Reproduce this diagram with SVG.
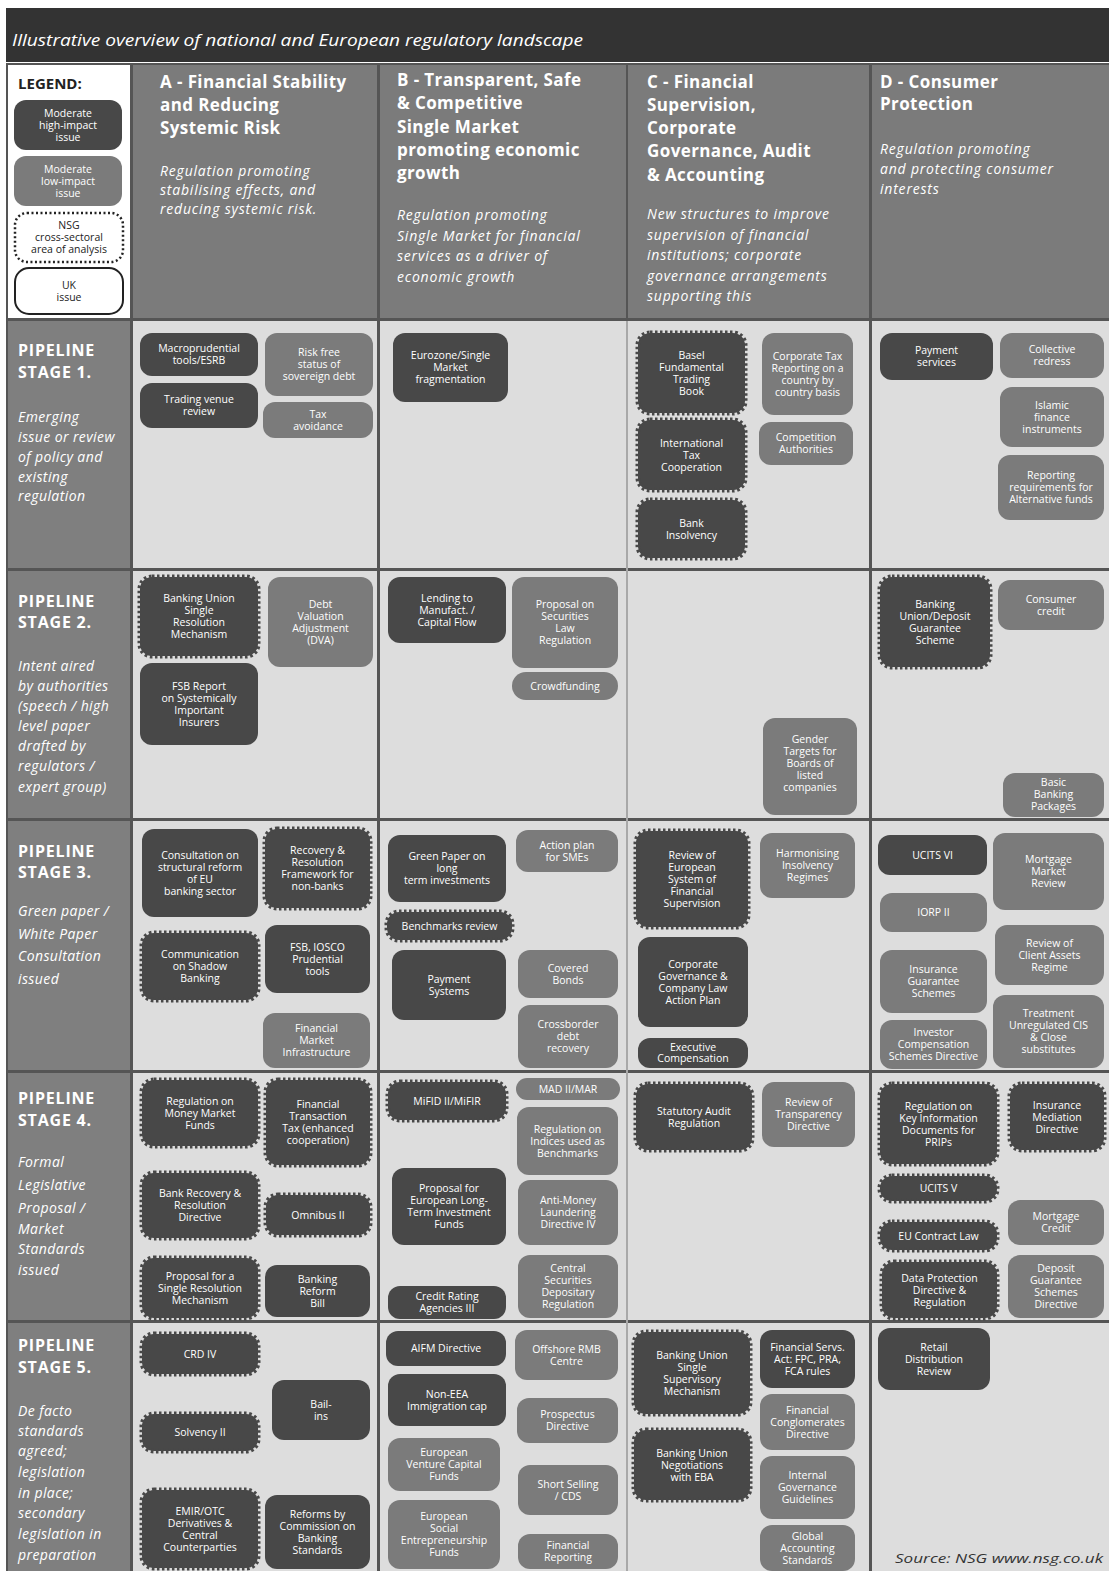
<svg xmlns="http://www.w3.org/2000/svg" width="1109" height="1571" viewBox="0 0 1109 1571">
<style>
.d{fill:#484848}
.g{fill:#7b7b7b}
.z{fill:#484848;stroke:#484848;stroke-width:5;stroke-dasharray:2.5 2.5}
.t{font-family:'Open Sans','DejaVu Sans',sans-serif;font-size:10.5px;fill:#fff;text-anchor:middle}
.hd{font-family:'Open Sans','DejaVu Sans',sans-serif;font-size:17px;font-weight:bold;fill:#fff;letter-spacing:0.4px}
.it{font-family:'Open Sans','DejaVu Sans',sans-serif;font-size:14px;font-style:italic;fill:#fff;letter-spacing:0.8px}
.lb{font-family:'Open Sans','DejaVu Sans',sans-serif;font-size:16px;font-weight:bold;fill:#fff;letter-spacing:0.8px}
.li{font-family:'Open Sans','DejaVu Sans',sans-serif;font-size:14px;font-style:italic;fill:#fff;letter-spacing:0.4px}
.cell{fill:#dddddd}
.lab{fill:#7f7f7f}
.hdr{fill:#7b7b7b}
</style>
<rect width="1109" height="1571" fill="#ffffff"/>
<g id="frame">
<rect x="6" y="8" width="1103" height="54" fill="#333333"/>
<text x="12" y="46" font-family="'Open Sans','DejaVu Sans',sans-serif" font-size="17" font-style="italic" fill="#fff" textLength="571" lengthAdjust="spacingAndGlyphs">Illustrative overview of national and European regulatory landscape</text>
<rect x="6" y="63" width="1103" height="1508" fill="#555555"/>
<rect x="8" y="65" width="122" height="253" fill="#ffffff"/>
<rect class="hdr" x="133" y="65" width="244" height="253"/>
<rect class="hdr" x="380" y="65" width="246" height="253"/>
<rect class="hdr" x="628" y="65" width="241" height="253"/>
<rect class="hdr" x="872" y="65" width="237" height="253"/>
<rect class="lab" x="8" y="321" width="122" height="247"/>
<rect class="lab" x="8" y="571" width="122" height="247"/>
<rect class="lab" x="8" y="821" width="122" height="249"/>
<rect class="lab" x="8" y="1073" width="122" height="247"/>
<rect class="lab" x="8" y="1323" width="122" height="248"/>
<rect x="626" y="321" width="2" height="1250" fill="#a8a8a8"/>
<rect class="cell" x="133" y="321" width="244" height="247"/><rect class="cell" x="380" y="321" width="246" height="247"/><rect class="cell" x="628" y="321" width="241" height="247"/><rect class="cell" x="872" y="321" width="237" height="247"/>
<rect class="cell" x="133" y="571" width="244" height="247"/><rect class="cell" x="380" y="571" width="246" height="247"/><rect class="cell" x="628" y="571" width="241" height="247"/><rect class="cell" x="872" y="571" width="237" height="247"/>
<rect class="cell" x="133" y="821" width="244" height="249"/><rect class="cell" x="380" y="821" width="246" height="249"/><rect class="cell" x="628" y="821" width="241" height="249"/><rect class="cell" x="872" y="821" width="237" height="249"/>
<rect class="cell" x="133" y="1073" width="244" height="247"/><rect class="cell" x="380" y="1073" width="246" height="247"/><rect class="cell" x="628" y="1073" width="241" height="247"/><rect class="cell" x="872" y="1073" width="237" height="247"/>
<rect class="cell" x="133" y="1323" width="244" height="248"/><rect class="cell" x="380" y="1323" width="246" height="248"/><rect class="cell" x="628" y="1323" width="241" height="248"/><rect class="cell" x="872" y="1323" width="237" height="248"/>
</g>
<g id="legend">
<text x="18" y="89" font-family="'Open Sans','DejaVu Sans',sans-serif" font-size="15" font-weight="bold" fill="#222">LEGEND:</text>
<rect class="d" x="14" y="100" width="108" height="50" rx="12"/>
<text class="t"><tspan x="68" y="116.5">Moderate</tspan><tspan x="68" y="128.5">high-impact</tspan><tspan x="68" y="140.5">issue</tspan></text>
<rect class="g" x="14" y="156" width="108" height="50" rx="12"/>
<text class="t"><tspan x="68" y="172.5">Moderate</tspan><tspan x="68" y="184.5">low-impact</tspan><tspan x="68" y="196.5">issue</tspan></text>
<rect x="15" y="213" width="108" height="49" rx="12" fill="#fff" stroke="#222" stroke-width="2.5" stroke-dasharray="2 2.5"/>
<text class="t" style="fill:#222"><tspan x="69" y="228.5">NSG</tspan><tspan x="69" y="240.5">cross-sectoral</tspan><tspan x="69" y="252.5">area of analysis</tspan></text>
<rect x="15" y="268" width="108" height="46" rx="14" fill="#fff" stroke="#222" stroke-width="2"/>
<text class="t" style="fill:#222"><tspan x="69" y="288.5">UK</tspan><tspan x="69" y="300.5">issue</tspan></text>
</g>
<g id="col-A">
<text class="hd"><tspan x="160" y="88">A - Financial Stability</tspan><tspan x="160" y="111">and Reducing</tspan><tspan x="160" y="134">Systemic Risk</tspan></text>
<text class="it"><tspan x="160" y="176">Regulation promoting</tspan><tspan x="160" y="195">stabilising effects, and</tspan><tspan x="160" y="214">reducing systemic risk.</tspan></text>
</g>
<g id="col-B">
<text class="hd"><tspan x="397" y="86">B - Transparent, Safe</tspan><tspan x="397" y="109">&amp; Competitive</tspan><tspan x="397" y="133">Single Market</tspan><tspan x="397" y="156">promoting economic</tspan><tspan x="397" y="179">growth</tspan></text>
<text class="it"><tspan x="397" y="220">Regulation promoting</tspan><tspan x="397" y="241">Single Market for financial</tspan><tspan x="397" y="261">services as a driver of</tspan><tspan x="397" y="282">economic growth</tspan></text>
</g>
<g id="col-C">
<text class="hd"><tspan x="647" y="88">C - Financial</tspan><tspan x="647" y="111">Supervision,</tspan><tspan x="647" y="134">Corporate</tspan><tspan x="647" y="157">Governance, Audit</tspan><tspan x="647" y="181">&amp; Accounting</tspan></text>
<text class="it"><tspan x="647" y="219">New structures to improve</tspan><tspan x="647" y="240">supervision of financial</tspan><tspan x="647" y="260">institutions; corporate</tspan><tspan x="647" y="281">governance arrangements</tspan><tspan x="647" y="301">supporting this</tspan></text>
</g>
<g id="col-D">
<text class="hd"><tspan x="880" y="88">D - Consumer</tspan><tspan x="880" y="110">Protection</tspan></text>
<text class="it"><tspan x="880" y="154">Regulation promoting</tspan><tspan x="880" y="174">and protecting consumer</tspan><tspan x="880" y="194">interests</tspan></text>
</g>
<g id="stage-1">
<text class="lb"><tspan x="18" y="356">PIPELINE</tspan><tspan x="18" y="378">STAGE 1.</tspan></text>
<text class="li"><tspan x="18" y="422">Emerging</tspan><tspan x="18" y="442">issue or review</tspan><tspan x="18" y="462">of policy and</tspan><tspan x="18" y="482">existing</tspan><tspan x="18" y="501">regulation</tspan></text>
</g>
<g id="stage-2">
<text class="lb"><tspan x="18" y="607">PIPELINE</tspan><tspan x="18" y="628">STAGE 2.</tspan></text>
<text class="li"><tspan x="18" y="671">Intent aired</tspan><tspan x="18" y="691">by authorities</tspan><tspan x="18" y="711">(speech / high</tspan><tspan x="18" y="731">level paper</tspan><tspan x="18" y="751">drafted by</tspan><tspan x="18" y="771">regulators /</tspan><tspan x="18" y="792">expert group)</tspan></text>
</g>
<g id="stage-3">
<text class="lb"><tspan x="18" y="857">PIPELINE</tspan><tspan x="18" y="878">STAGE 3.</tspan></text>
<text class="li"><tspan x="18" y="916">Green paper /</tspan><tspan x="18" y="939">White Paper</tspan><tspan x="18" y="961">Consultation</tspan><tspan x="18" y="984">issued</tspan></text>
</g>
<g id="stage-4">
<text class="lb"><tspan x="18" y="1104">PIPELINE</tspan><tspan x="18" y="1126">STAGE 4.</tspan></text>
<text class="li"><tspan x="18" y="1167">Formal</tspan><tspan x="18" y="1190">Legislative</tspan><tspan x="18" y="1213">Proposal /</tspan><tspan x="18" y="1234">Market</tspan><tspan x="18" y="1254">Standards</tspan><tspan x="18" y="1275">issued</tspan></text>
</g>
<g id="stage-5">
<text class="lb"><tspan x="18" y="1351">PIPELINE</tspan><tspan x="18" y="1373">STAGE 5.</tspan></text>
<text class="li"><tspan x="18" y="1416">De facto</tspan><tspan x="18" y="1436">standards</tspan><tspan x="18" y="1456">agreed;</tspan><tspan x="18" y="1477">legislation</tspan><tspan x="18" y="1498">in place;</tspan><tspan x="18" y="1518">secondary</tspan><tspan x="18" y="1539">legislation in</tspan><tspan x="18" y="1560">preparation</tspan></text>
</g>

<g id="s1-a1"><rect class="d" x="140" y="333" width="118" height="43" rx="12"/><text class="t"><tspan x="199" y="352">Macroprudential</tspan><tspan x="199" y="364">tools/ESRB</tspan></text></g>
<g id="s1-a2"><rect class="d" x="140" y="383" width="118" height="45" rx="12"/><text class="t"><tspan x="199" y="403">Trading venue</tspan><tspan x="199" y="415">review</tspan></text></g>
<g id="s1-a3"><rect class="g" x="265" y="333" width="108" height="63" rx="12"/><text class="t"><tspan x="319" y="356">Risk free</tspan><tspan x="319" y="368">status of</tspan><tspan x="319" y="380">sovereign debt</tspan></text></g>
<g id="s1-a4"><rect class="g" x="263" y="402" width="110" height="36" rx="12"/><text class="t"><tspan x="318" y="417.5">Tax</tspan><tspan x="318" y="429.5">avoidance</tspan></text></g>
<g id="s1-b1"><rect class="d" x="393" y="333" width="115" height="69" rx="12"/><text class="t"><tspan x="450.5" y="359">Eurozone/Single</tspan><tspan x="450.5" y="371">Market</tspan><tspan x="450.5" y="383">fragmentation</tspan></text></g>
<g id="s1-c1"><rect class="z" x="638" y="333" width="107" height="80" rx="12"/><text class="t"><tspan x="691.5" y="358.5">Basel</tspan><tspan x="691.5" y="370.5">Fundamental</tspan><tspan x="691.5" y="382.5">Trading</tspan><tspan x="691.5" y="394.5">Book</tspan></text></g>
<g id="s1-c2"><rect class="z" x="638" y="420" width="107" height="70" rx="12"/><text class="t"><tspan x="691.5" y="446.5">International</tspan><tspan x="691.5" y="458.5">Tax</tspan><tspan x="691.5" y="470.5">Cooperation</tspan></text></g>
<g id="s1-c3"><rect class="z" x="638" y="500" width="107" height="58" rx="12"/><text class="t"><tspan x="691.5" y="526.5">Bank</tspan><tspan x="691.5" y="538.5">Insolvency</tspan></text></g>
<g id="s1-c4"><rect class="g" x="762" y="333" width="91" height="82" rx="12"/><text class="t"><tspan x="807.5" y="359.5">Corporate Tax</tspan><tspan x="807.5" y="371.5">Reporting on a</tspan><tspan x="807.5" y="383.5">country by</tspan><tspan x="807.5" y="395.5">country basis</tspan></text></g>
<g id="s1-c5"><rect class="g" x="759" y="422" width="94" height="43" rx="12"/><text class="t"><tspan x="806" y="441">Competition</tspan><tspan x="806" y="453">Authorities</tspan></text></g>
<g id="s1-d1"><rect class="d" x="880" y="333" width="113" height="47" rx="12"/><text class="t"><tspan x="936.5" y="354">Payment</tspan><tspan x="936.5" y="366">services</tspan></text></g>
<g id="s1-d2"><rect class="g" x="1000" y="333" width="104" height="45" rx="12"/><text class="t"><tspan x="1052" y="353">Collective</tspan><tspan x="1052" y="365">redress</tspan></text></g>
<g id="s1-d3"><rect class="g" x="1000" y="387" width="104" height="60" rx="12"/><text class="t"><tspan x="1052" y="408.5">Islamic</tspan><tspan x="1052" y="420.5">finance</tspan><tspan x="1052" y="432.5">instruments</tspan></text></g>
<g id="s1-d4"><rect class="g" x="998" y="455" width="106" height="65" rx="12"/><text class="t"><tspan x="1051" y="479">Reporting</tspan><tspan x="1051" y="491">requirements for</tspan><tspan x="1051" y="503">Alternative funds</tspan></text></g>

<g id="s2-a1"><rect class="z" x="140" y="577" width="118" height="79" rx="12"/><text class="t"><tspan x="199" y="602">Banking Union</tspan><tspan x="199" y="614">Single</tspan><tspan x="199" y="626">Resolution</tspan><tspan x="199" y="638">Mechanism</tspan></text></g>
<g id="s2-a2"><rect class="g" x="268" y="577" width="105" height="90" rx="12"/><text class="t"><tspan x="320.5" y="607.5">Debt</tspan><tspan x="320.5" y="619.5">Valuation</tspan><tspan x="320.5" y="631.5">Adjustment</tspan><tspan x="320.5" y="643.5">(DVA)</tspan></text></g>
<g id="s2-a3"><rect class="d" x="140" y="663" width="118" height="82" rx="12"/><text class="t"><tspan x="199" y="689.5">FSB Report</tspan><tspan x="199" y="701.5">on Systemically</tspan><tspan x="199" y="713.5">Important</tspan><tspan x="199" y="725.5">Insurers</tspan></text></g>
<g id="s2-b1"><rect class="d" x="388" y="577" width="118" height="66" rx="12"/><text class="t"><tspan x="447" y="601.5">Lending to</tspan><tspan x="447" y="613.5">Manufact. /</tspan><tspan x="447" y="625.5">Capital Flow</tspan></text></g>
<g id="s2-b2"><rect class="g" x="512" y="577" width="106" height="91" rx="12"/><text class="t"><tspan x="565" y="608">Proposal on</tspan><tspan x="565" y="620">Securities</tspan><tspan x="565" y="632">Law</tspan><tspan x="565" y="644">Regulation</tspan></text></g>
<g id="s2-b3"><rect class="g" x="512" y="672" width="106" height="28" rx="14"/><text class="t"><tspan x="565" y="689.5">Crowdfunding</tspan></text></g>
<g id="s2-c1"><rect class="g" x="763" y="718" width="94" height="97" rx="12"/><text class="t"><tspan x="810" y="743">Gender</tspan><tspan x="810" y="755">Targets for</tspan><tspan x="810" y="767">Boards of</tspan><tspan x="810" y="779">listed</tspan><tspan x="810" y="791">companies</tspan></text></g>
<g id="s2-d1"><rect class="z" x="880" y="577" width="110" height="90" rx="12"/><text class="t"><tspan x="935" y="607.5">Banking</tspan><tspan x="935" y="619.5">Union/Deposit</tspan><tspan x="935" y="631.5">Guarantee</tspan><tspan x="935" y="643.5">Scheme</tspan></text></g>
<g id="s2-d2"><rect class="g" x="998" y="580" width="106" height="50" rx="12"/><text class="t"><tspan x="1051" y="602.5">Consumer</tspan><tspan x="1051" y="614.5">credit</tspan></text></g>
<g id="s2-d3"><rect class="g" x="1003" y="773" width="101" height="44" rx="12"/><text class="t"><tspan x="1053.5" y="786">Basic</tspan><tspan x="1053.5" y="798">Banking</tspan><tspan x="1053.5" y="810">Packages</tspan></text></g>

<g id="s3-a1"><rect class="d" x="142" y="829" width="116" height="88" rx="12"/><text class="t"><tspan x="200" y="858.5">Consultation on</tspan><tspan x="200" y="870.5">structural reform</tspan><tspan x="200" y="882.5">of EU</tspan><tspan x="200" y="894.5">banking sector</tspan></text></g>
<g id="s3-a2"><rect class="z" x="265" y="829" width="105" height="79" rx="12"/><text class="t"><tspan x="317.5" y="854">Recovery &amp;</tspan><tspan x="317.5" y="866">Resolution</tspan><tspan x="317.5" y="878">Framework for</tspan><tspan x="317.5" y="890">non-banks</tspan></text></g>
<g id="s3-a3"><rect class="z" x="142" y="933" width="116" height="67" rx="12"/><text class="t"><tspan x="200" y="958">Communication</tspan><tspan x="200" y="970">on Shadow</tspan><tspan x="200" y="982">Banking</tspan></text></g>
<g id="s3-a4"><rect class="d" x="265" y="925" width="105" height="68" rx="12"/><text class="t"><tspan x="317.5" y="950.5">FSB, IOSCO</tspan><tspan x="317.5" y="962.5">Prudential</tspan><tspan x="317.5" y="974.5">tools</tspan></text></g>
<g id="s3-a5"><rect class="g" x="263" y="1013" width="107" height="55" rx="12"/><text class="t"><tspan x="316.5" y="1032">Financial</tspan><tspan x="316.5" y="1044">Market</tspan><tspan x="316.5" y="1056">Infrastructure</tspan></text></g>
<g id="s3-b1"><rect class="d" x="388" y="835" width="118" height="67" rx="12"/><text class="t"><tspan x="447" y="860">Green Paper on</tspan><tspan x="447" y="872">long</tspan><tspan x="447" y="884">term investments</tspan></text></g>
<g id="s3-b2"><rect class="z" x="387" y="912" width="125" height="28" rx="12"/><text class="t"><tspan x="449.5" y="929.5">Benchmarks review</tspan></text></g>
<g id="s3-b3"><rect class="d" x="392" y="950" width="114" height="70" rx="12"/><text class="t"><tspan x="449" y="982.5">Payment</tspan><tspan x="449" y="994.5">Systems</tspan></text></g>
<g id="s3-b4"><rect class="g" x="516" y="830" width="102" height="42" rx="12"/><text class="t"><tspan x="567" y="848.5">Action plan</tspan><tspan x="567" y="860.5">for SMEs</tspan></text></g>
<g id="s3-b5"><rect class="g" x="518" y="950" width="100" height="48" rx="12"/><text class="t"><tspan x="568" y="971.5">Covered</tspan><tspan x="568" y="983.5">Bonds</tspan></text></g>
<g id="s3-b6"><rect class="g" x="518" y="1005" width="100" height="63" rx="12"/><text class="t"><tspan x="568" y="1028">Crossborder</tspan><tspan x="568" y="1040">debt</tspan><tspan x="568" y="1052">recovery</tspan></text></g>
<g id="s3-c1"><rect class="z" x="636" y="831" width="112" height="96" rx="12"/><text class="t"><tspan x="692" y="858.5">Review of</tspan><tspan x="692" y="870.5">European</tspan><tspan x="692" y="882.5">System of</tspan><tspan x="692" y="894.5">Financial</tspan><tspan x="692" y="906.5">Supervision</tspan></text></g>
<g id="s3-c2"><rect class="d" x="638" y="937" width="110" height="90" rx="12"/><text class="t"><tspan x="693" y="967.5">Corporate</tspan><tspan x="693" y="979.5">Governance &amp;</tspan><tspan x="693" y="991.5">Company Law</tspan><tspan x="693" y="1003.5">Action Plan</tspan></text></g>
<g id="s3-c3"><rect class="d" x="638" y="1038" width="110" height="30" rx="12"/><text class="t"><tspan x="693" y="1050.5">Executive</tspan><tspan x="693" y="1062">Compensation</tspan></text></g>
<g id="s3-c4"><rect class="g" x="760" y="833" width="95" height="65" rx="12"/><text class="t"><tspan x="807.5" y="857">Harmonising</tspan><tspan x="807.5" y="869">Insolvency</tspan><tspan x="807.5" y="881">Regimes</tspan></text></g>
<g id="s3-d1"><rect class="d" x="878" y="835" width="109" height="40" rx="12"/><text class="t"><tspan x="932.5" y="858.5">UCITS VI</tspan></text></g>
<g id="s3-d2"><rect class="g" x="880" y="893" width="107" height="39" rx="12"/><text class="t"><tspan x="933.5" y="916">IORP II</tspan></text></g>
<g id="s3-d3"><rect class="g" x="880" y="950" width="107" height="63" rx="12"/><text class="t"><tspan x="933.5" y="973">Insurance</tspan><tspan x="933.5" y="985">Guarantee</tspan><tspan x="933.5" y="997">Schemes</tspan></text></g>
<g id="s3-d4"><rect class="g" x="880" y="1020" width="107" height="49" rx="12"/><text class="t"><tspan x="933.5" y="1036">Investor</tspan><tspan x="933.5" y="1048">Compensation</tspan><tspan x="933.5" y="1060">Schemes Directive</tspan></text></g>
<g id="s3-d5"><rect class="g" x="993" y="833" width="111" height="77" rx="12"/><text class="t"><tspan x="1048.5" y="863">Mortgage</tspan><tspan x="1048.5" y="875">Market</tspan><tspan x="1048.5" y="887">Review</tspan></text></g>
<g id="s3-d6"><rect class="g" x="995" y="925" width="109" height="60" rx="12"/><text class="t"><tspan x="1049.5" y="946.5">Review of</tspan><tspan x="1049.5" y="958.5">Client Assets</tspan><tspan x="1049.5" y="970.5">Regime</tspan></text></g>
<g id="s3-d7"><rect class="g" x="993" y="995" width="111" height="73" rx="12"/><text class="t"><tspan x="1048.5" y="1017">Treatment</tspan><tspan x="1048.5" y="1029">Unregulated CIS</tspan><tspan x="1048.5" y="1041">&amp; Close</tspan><tspan x="1048.5" y="1053">substitutes</tspan></text></g>

<g id="s4-a1"><rect class="z" x="142" y="1080" width="116" height="66" rx="12"/><text class="t"><tspan x="200" y="1104.5">Regulation on</tspan><tspan x="200" y="1116.5">Money Market</tspan><tspan x="200" y="1128.5">Funds</tspan></text></g>
<g id="s4-a2"><rect class="z" x="266" y="1080" width="104" height="85" rx="12"/><text class="t"><tspan x="318" y="1108">Financial</tspan><tspan x="318" y="1120">Transaction</tspan><tspan x="318" y="1132">Tax (enhanced</tspan><tspan x="318" y="1144">cooperation)</tspan></text></g>
<g id="s4-a3"><rect class="z" x="142" y="1173" width="116" height="65" rx="12"/><text class="t"><tspan x="200" y="1197">Bank Recovery &amp;</tspan><tspan x="200" y="1209">Resolution</tspan><tspan x="200" y="1221">Directive</tspan></text></g>
<g id="s4-a4"><rect class="z" x="266" y="1195" width="104" height="40" rx="12"/><text class="t"><tspan x="318" y="1218.5">Omnibus II</tspan></text></g>
<g id="s4-a5"><rect class="z" x="142" y="1258" width="116" height="60" rx="12"/><text class="t"><tspan x="200" y="1279.5">Proposal for a</tspan><tspan x="200" y="1291.5">Single Resolution</tspan><tspan x="200" y="1303.5">Mechanism</tspan></text></g>
<g id="s4-a6"><rect class="d" x="265" y="1265" width="105" height="52" rx="12"/><text class="t"><tspan x="317.5" y="1282.5">Banking</tspan><tspan x="317.5" y="1294.5">Reform</tspan><tspan x="317.5" y="1306.5">Bill</tspan></text></g>
<g id="s4-b1"><rect class="z" x="388" y="1082" width="118" height="38" rx="12"/><text class="t"><tspan x="447" y="1104.5">MiFID II/MiFIR</tspan></text></g>
<g id="s4-b2"><rect class="d" x="392" y="1168" width="114" height="77" rx="12"/><text class="t"><tspan x="449" y="1192">Proposal for</tspan><tspan x="449" y="1204">European Long-</tspan><tspan x="449" y="1216">Term Investment</tspan><tspan x="449" y="1228">Funds</tspan></text></g>
<g id="s4-b3"><rect class="d" x="388" y="1286" width="118" height="33" rx="12"/><text class="t"><tspan x="447" y="1299.5">Credit Rating</tspan><tspan x="447" y="1311.5">Agencies III</tspan></text></g>
<g id="s4-b4"><rect class="g" x="516" y="1078" width="104" height="22" rx="11"/><text class="t"><tspan x="568" y="1092.5">MAD II/MAR</tspan></text></g>
<g id="s4-b5"><rect class="g" x="517" y="1107" width="101" height="68" rx="12"/><text class="t"><tspan x="567.5" y="1132.5">Regulation on</tspan><tspan x="567.5" y="1144.5">Indices used as</tspan><tspan x="567.5" y="1156.5">Benchmarks</tspan></text></g>
<g id="s4-b6"><rect class="g" x="518" y="1180" width="100" height="65" rx="12"/><text class="t"><tspan x="568" y="1204">Anti-Money</tspan><tspan x="568" y="1216">Laundering</tspan><tspan x="568" y="1228">Directive IV</tspan></text></g>
<g id="s4-b7"><rect class="g" x="518" y="1255" width="100" height="63" rx="12"/><text class="t"><tspan x="568" y="1272">Central</tspan><tspan x="568" y="1284">Securities</tspan><tspan x="568" y="1296">Depositary</tspan><tspan x="568" y="1308">Regulation</tspan></text></g>
<g id="s4-c1"><rect class="z" x="636" y="1084" width="116" height="66" rx="12"/><text class="t"><tspan x="694" y="1114.5">Statutory Audit</tspan><tspan x="694" y="1126.5">Regulation</tspan></text></g>
<g id="s4-c2"><rect class="g" x="762" y="1082" width="93" height="65" rx="12"/><text class="t"><tspan x="808.5" y="1106">Review of</tspan><tspan x="808.5" y="1118">Transparency</tspan><tspan x="808.5" y="1130">Directive</tspan></text></g>
<g id="s4-d1"><rect class="z" x="880" y="1084" width="117" height="80" rx="12"/><text class="t"><tspan x="938.5" y="1109.5">Regulation on</tspan><tspan x="938.5" y="1121.5">Key Information</tspan><tspan x="938.5" y="1133.5">Documents for</tspan><tspan x="938.5" y="1145.5">PRIPs</tspan></text></g>
<g id="s4-d2"><rect class="z" x="880" y="1176" width="117" height="25" rx="12"/><text class="t"><tspan x="938.5" y="1192">UCITS V</tspan></text></g>
<g id="s4-d3"><rect class="z" x="880" y="1222" width="117" height="28" rx="12"/><text class="t"><tspan x="938.5" y="1239.5">EU Contract Law</tspan></text></g>
<g id="s4-d4"><rect class="z" x="882" y="1262" width="115" height="56" rx="12"/><text class="t"><tspan x="939.5" y="1281.5">Data Protection</tspan><tspan x="939.5" y="1293.5">Directive &amp;</tspan><tspan x="939.5" y="1305.5">Regulation</tspan></text></g>
<g id="s4-d5"><rect class="z" x="1010" y="1084" width="94" height="66" rx="12"/><text class="t"><tspan x="1057" y="1108.5">Insurance</tspan><tspan x="1057" y="1120.5">Mediation</tspan><tspan x="1057" y="1132.5">Directive</tspan></text></g>
<g id="s4-d6"><rect class="g" x="1008" y="1200" width="96" height="45" rx="12"/><text class="t"><tspan x="1056" y="1220">Mortgage</tspan><tspan x="1056" y="1232">Credit</tspan></text></g>
<g id="s4-d7"><rect class="g" x="1008" y="1255" width="96" height="63" rx="12"/><text class="t"><tspan x="1056" y="1272">Deposit</tspan><tspan x="1056" y="1284">Guarantee</tspan><tspan x="1056" y="1296">Schemes</tspan><tspan x="1056" y="1308">Directive</tspan></text></g>

<g id="s5-a1"><rect class="z" x="142" y="1334" width="116" height="40" rx="12"/><text class="t"><tspan x="200" y="1357.5">CRD IV</tspan></text></g>
<g id="s5-a2"><rect class="z" x="142" y="1414" width="116" height="37" rx="12"/><text class="t"><tspan x="200" y="1436">Solvency II</tspan></text></g>
<g id="s5-a3"><rect class="d" x="272" y="1380" width="98" height="60" rx="12"/><text class="t"><tspan x="321" y="1407.5">Bail-</tspan><tspan x="321" y="1419.5">ins</tspan></text></g>
<g id="s5-a4"><rect class="z" x="142" y="1490" width="116" height="78" rx="12"/><text class="t"><tspan x="200" y="1514.5">EMIR/OTC</tspan><tspan x="200" y="1526.5">Derivatives &amp;</tspan><tspan x="200" y="1538.5">Central</tspan><tspan x="200" y="1550.5">Counterparties</tspan></text></g>
<g id="s5-a5"><rect class="d" x="265" y="1495" width="105" height="74" rx="12"/><text class="t"><tspan x="317.5" y="1517.5">Reforms by</tspan><tspan x="317.5" y="1529.5">Commission on</tspan><tspan x="317.5" y="1541.5">Banking</tspan><tspan x="317.5" y="1553.5">Standards</tspan></text></g>
<g id="s5-b1"><rect class="d" x="386" y="1331" width="120" height="35" rx="12"/><text class="t"><tspan x="446" y="1352">AIFM Directive</tspan></text></g>
<g id="s5-b2"><rect class="d" x="388" y="1374" width="118" height="52" rx="12"/><text class="t"><tspan x="447" y="1397.5">Non-EEA</tspan><tspan x="447" y="1409.5">Immigration cap</tspan></text></g>
<g id="s5-b3"><rect class="g" x="388" y="1438" width="112" height="53" rx="12"/><text class="t"><tspan x="444" y="1456">European</tspan><tspan x="444" y="1468">Venture Capital</tspan><tspan x="444" y="1480">Funds</tspan></text></g>
<g id="s5-b4"><rect class="g" x="388" y="1500" width="112" height="69" rx="12"/><text class="t"><tspan x="444" y="1520">European</tspan><tspan x="444" y="1532">Social</tspan><tspan x="444" y="1544">Entrepreneurship</tspan><tspan x="444" y="1556">Funds</tspan></text></g>
<g id="s5-b5"><rect class="g" x="515" y="1330" width="103" height="50" rx="12"/><text class="t"><tspan x="566.5" y="1352.5">Offshore RMB</tspan><tspan x="566.5" y="1364.5">Centre</tspan></text></g>
<g id="s5-b6"><rect class="g" x="517" y="1398" width="101" height="45" rx="12"/><text class="t"><tspan x="567.5" y="1418">Prospectus</tspan><tspan x="567.5" y="1430">Directive</tspan></text></g>
<g id="s5-b7"><rect class="g" x="518" y="1465" width="100" height="50" rx="12"/><text class="t"><tspan x="568" y="1487.5">Short Selling</tspan><tspan x="568" y="1499.5">/ CDS</tspan></text></g>
<g id="s5-b8"><rect class="g" x="518" y="1534" width="100" height="35" rx="12"/><text class="t"><tspan x="568" y="1549">Financial</tspan><tspan x="568" y="1561">Reporting</tspan></text></g>
<g id="s5-c1"><rect class="z" x="634" y="1332" width="116" height="82" rx="12"/><text class="t"><tspan x="692" y="1358.5">Banking Union</tspan><tspan x="692" y="1370.5">Single</tspan><tspan x="692" y="1382.5">Supervisory</tspan><tspan x="692" y="1394.5">Mechanism</tspan></text></g>
<g id="s5-c2"><rect class="z" x="634" y="1430" width="116" height="70" rx="12"/><text class="t"><tspan x="692" y="1456.5">Banking Union</tspan><tspan x="692" y="1468.5">Negotiations</tspan><tspan x="692" y="1480.5">with EBA</tspan></text></g>
<g id="s5-c3"><rect class="d" x="760" y="1330" width="95" height="58" rx="12"/><text class="t"><tspan x="807.5" y="1350.5">Financial Servs.</tspan><tspan x="807.5" y="1362.5">Act: FPC, PRA,</tspan><tspan x="807.5" y="1374.5">FCA rules</tspan></text></g>
<g id="s5-c4"><rect class="g" x="760" y="1394" width="95" height="56" rx="12"/><text class="t"><tspan x="807.5" y="1413.5">Financial</tspan><tspan x="807.5" y="1425.5">Conglomerates</tspan><tspan x="807.5" y="1437.5">Directive</tspan></text></g>
<g id="s5-c5"><rect class="g" x="760" y="1456" width="95" height="63" rx="12"/><text class="t"><tspan x="807.5" y="1479">Internal</tspan><tspan x="807.5" y="1491">Governance</tspan><tspan x="807.5" y="1503">Guidelines</tspan></text></g>
<g id="s5-c6"><rect class="g" x="760" y="1525" width="95" height="46" rx="12"/><text class="t"><tspan x="807.5" y="1540">Global</tspan><tspan x="807.5" y="1552">Accounting</tspan><tspan x="807.5" y="1564">Standards</tspan></text></g>
<g id="s5-d1"><rect class="d" x="878" y="1328" width="112" height="62" rx="12"/><text class="t"><tspan x="934" y="1350.5">Retail</tspan><tspan x="934" y="1362.5">Distribution</tspan><tspan x="934" y="1374.5">Review</tspan></text></g>
<g id="source"><text x="895" y="1563" font-family="'Open Sans','DejaVu Sans',sans-serif" font-size="12" font-style="italic" fill="#333" textLength="208" lengthAdjust="spacingAndGlyphs">Source: NSG www.nsg.co.uk</text></g>
</svg>
